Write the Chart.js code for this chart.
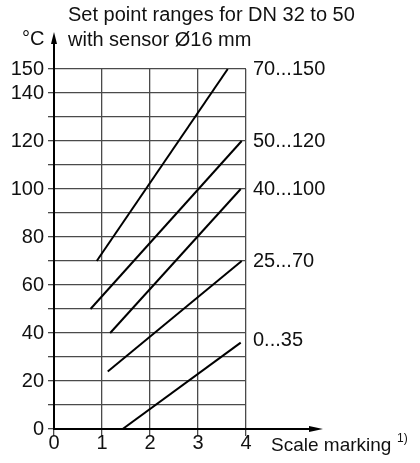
<!DOCTYPE html>
<html>
<head>
<meta charset="utf-8">
<script src="https://cdn.jsdelivr.net/npm/chart.js@4.4.1/dist/chart.umd.min.js"></script>
<style>
    html, body { margin: 0; padding: 0; background: #fff; }
    #wrap { width: 420px; height: 463px; }
</style>
</head>
<body>
<div id="wrap"><canvas id="setpointChart" width="420" height="463"></canvas></div>
<script>
// Set point ranges, one straight line each (scale marking -> °C)
const rangeLabels = ['70...150', '50...120', '40...100', '25...70', '0...35'];
const startX = [0.89, 0.76, 1.17, 1.12, 1.43];
const startY = [70, 50, 40, 24, 0];
const endX = [3.62, 3.91, 3.89, 3.91, 3.89];
const endY = [150, 120, 100, 70, 36];
// where the range label sits on the right side
const labelY = [150, 120, 100, 70, 37];

const yGridValues = [0, 10, 20, 30, 40, 50, 60, 70, 80, 90, 100, 110, 120, 130, 140, 150];
const yTickLabels = [0, 20, 40, 60, 80, 100, 120, 140, 150];
const xTickLabels = [0, 1, 2, 3, 4];

const FONT = "'Liberation Sans', Arial, sans-serif";
const GRID = '#4a4a4a';

// Build datasets from the arrays
const datasets = rangeLabels.map((name, i) => ({
    label: name,
    data: [{ x: startX[i], y: startY[i] }, { x: endX[i], y: endY[i] }],
    borderColor: '#000',
    borderWidth: 2,
    pointRadius: 0,
    showLine: true,
    fill: false,
    yAxisID: 'y'
}));

// Titles, axis arrows and the x-axis caption
const decorations = {
    id: 'decorations',
    afterDraw(chart) {
        const ctx = chart.ctx;
        const area = chart.chartArea;
        const x0 = chart.scales.x.getPixelForValue(0);
        const y0 = chart.scales.y.getPixelForValue(0);
        ctx.save();
        ctx.strokeStyle = '#000';
        ctx.fillStyle = '#000';
        ctx.lineWidth = 2;

        // y axis extension + arrow
        const yTip = 32;
        ctx.beginPath();
        ctx.moveTo(x0, area.top);
        ctx.lineTo(x0, yTip + 8);
        ctx.stroke();
        ctx.beginPath();
        ctx.moveTo(x0, yTip);
        ctx.lineTo(x0 - 3, yTip + 12);
        ctx.lineTo(x0 + 3, yTip + 12);
        ctx.closePath();
        ctx.fill();

        // x axis extension + arrow
        const xTip = 323;
        ctx.beginPath();
        ctx.moveTo(area.right, y0);
        ctx.lineTo(xTip - 8, y0);
        ctx.stroke();
        ctx.beginPath();
        ctx.moveTo(xTip, y0);
        ctx.lineTo(xTip - 14, y0 - 3);
        ctx.lineTo(xTip - 14, y0 + 3);
        ctx.closePath();
        ctx.fill();

        // texts
        ctx.textBaseline = 'middle';
        ctx.textAlign = 'left';
        ctx.fillStyle = '#111';
        ctx.font = '20px ' + FONT;
        ctx.fillText('Set point ranges for DN 32 to 50', 68, 15);
        ctx.fillText('with sensor Ø16 mm', 68, 40);
        ctx.fillText('°C', 22, 39);

        ctx.font = '19px ' + FONT;
        ctx.fillText('Scale marking', 271, 446);
        ctx.font = '12px ' + FONT;
        ctx.fillText('1)', 397, 439);
        ctx.restore();
    }
};

const ctx = document.getElementById('setpointChart').getContext('2d');
new Chart(ctx, {
    type: 'scatter',
    data: { datasets },
    options: {
        responsive: false,
        animation: false,
        layout: { padding: { top: 69, left: 0, right: 0, bottom: 0 } },
        plugins: {
            legend: { display: false },
            tooltip: { enabled: false },
            title: { display: false }
        },
        scales: {
            x: {
                type: 'linear',
                min: 0,
                max: 4,
                afterFit(scale) { scale.height = 34; },
                afterBuildTicks(scale) {
                    scale.ticks = xTickLabels.map(v => ({ value: v }));
                },
                grid: { color: GRID, lineWidth: 1.3, tickLength: 7, drawTicks: true },
                border: { color: '#000', width: 2 },
                ticks: {
                    color: '#111',
                    padding: -5,
                    autoSkip: false,
                    font: { family: FONT, size: 20 },
                    maxRotation: 0
                }
            },
            y: {
                type: 'linear',
                position: 'left',
                min: 0,
                max: 150,
                afterFit(scale) { scale.width = 54; },
                afterBuildTicks(scale) {
                    scale.ticks = yGridValues.map(v => ({ value: v }));
                },
                ticks: {
                    color: '#111',
                    padding: 4,
                    autoSkip: false,
                    font: { family: FONT, size: 20 },
                    callback: v => yTickLabels.includes(v) ? String(v) : ''
                },
                grid: { color: GRID, lineWidth: 1.3, tickLength: 6, drawTicks: true },
                border: { color: '#000', width: 2 }
            },
            yRange: {
                type: 'linear',
                position: 'right',
                min: 0,
                max: 150,
                afterFit(scale) { scale.width = 174; },
                afterBuildTicks(scale) {
                    scale.ticks = labelY.map(v => ({ value: v }));
                },
                ticks: {
                    color: '#111',
                    padding: 7,
                    autoSkip: false,
                    font: { family: FONT, size: 20 },
                    callback: (v, i) => rangeLabels[i]
                },
                grid: { display: false, drawTicks: false, tickLength: 0 },
                border: { display: false }
            }
        }
    },
    plugins: [decorations]
});
</script>
</body>
</html>
